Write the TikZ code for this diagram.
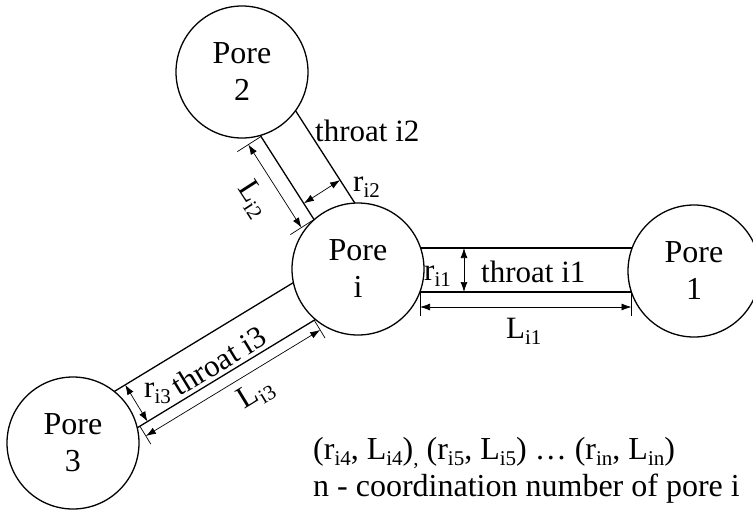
\documentclass[tikz,border=0pt]{standalone}
\usepackage{fontspec}
\setmainfont{Liberation Serif}
\usetikzlibrary{arrows.meta}
% lowered, smaller index text
\newcommand\lowsub[1]{\raisebox{-6pt}{\fontsize{21}{21}\selectfont #1}}
\begin{document}
\begin{tikzpicture}[x=1pt,y=-1pt,
  pore/.style={circle,draw,line width=1.3pt,fill=white,minimum size=132pt,
    inner sep=0pt,align=center,font=\fontsize{32}{37}\selectfont},
  wall/.style={line width=1.3pt},
  tick/.style={line width=0.7pt},
  dimarrow/.style={line width=0.7pt,{Latex[length=10pt,width=7pt]}-{Latex[length=10pt,width=7pt]}},
  lbl/.style={inner sep=0pt,font=\fontsize{31}{37}\selectfont},
  note/.style={inner sep=0pt,font=\fontsize{32}{37}\selectfont}]

\useasboundingbox (0,0) rectangle (753,512);

% throat walls (their ends are hidden under the filled pores)
\coordinate (w1a) at (400,248);   \coordinate (w1b) at (660,248);
\coordinate (w1c) at (400,292);   \coordinate (w1d) at (660,292);
\coordinate (w2a) at (253.9,125.4); \coordinate (w2b) at (321.1,230.6);
\coordinate (w2c) at (290.1,102.2); \coordinate (w2d) at (363,215.8);
\coordinate (w3a) at (103.9,397.8); \coordinate (w3b) at (304.7,275.7);
\coordinate (w3c) at (126.2,434.5); \coordinate (w3d) at (328.7,311.4);
\draw[wall] (w1a) -- (w1b);
\draw[wall] (w1c) -- (w1d);
\draw[wall] (w2a) -- (w2b);
\draw[wall] (w2c) -- (w2d);
\draw[wall] (w3a) -- (w3b);
\draw[wall] (w3c) -- (w3d);

% pores
\node[pore] (pi) at (358,269) {Pore\\i};
\node[pore] (p1) at (694,271) {Pore\\1};
\node[pore] (p2) at (242,72)  {Pore\\2};
\node[pore] (p3) at (73,443)  {Pore\\3};

% throat i1: radius and length
\coordinate (r1a) at (464,248); \coordinate (r1b) at (464,292);
\draw[dimarrow] (r1a) -- (r1b);
\coordinate (k1a) at (420,292);  \coordinate (k1b) at (420,316);
\coordinate (k1c) at (631.5,292); \coordinate (k1d) at (631.5,316);
\draw[tick] (k1a) -- (k1b);
\draw[tick] (k1c) -- (k1d);
\coordinate (l1a) at (420,307); \coordinate (l1b) at (631.5,307);
\draw[dimarrow] (l1a) -- (l1b);
\node[lbl,anchor=base west] (tr1) at (424,280) {r\lowsub{i1}};
\node[lbl,anchor=base west] (th1) at (481,282) {throat i1};
\node[lbl,anchor=base west] (tl1) at (506,338) {L\lowsub{i1}};

% throat i2: radius and length
\coordinate (r2a) at (303.9,203.3); \coordinate (r2b) at (340.1,180.1);
\draw[dimarrow] (r2a) -- (r2b);
\coordinate (k2a) at (261,136.5); \coordinate (k2b) at (237.4,151.6);
\coordinate (k2c) at (314,219.5); \coordinate (k2d) at (290.4,234.6);
\draw[tick] (k2a) -- (k2b);
\draw[tick] (k2c) -- (k2d);
\coordinate (l2a) at (248.4,144.6); \coordinate (l2b) at (301.4,227.6);
\draw[dimarrow] (l2a) -- (l2b);
\node[lbl,anchor=base west] (tr2) at (353,191) {r\lowsub{i2}};
\node[lbl,anchor=base west] (th2) at (315,141) {throat i2};
\node[lbl,rotate=-57.3] (tl2) at (253,199) {L\lowsub{i2}};

% throat i3: radius and length
\coordinate (r3a) at (125.2,384.8); \coordinate (r3b) at (147.5,421.5);
\draw[dimarrow] (r3a) -- (r3b);
\coordinate (k3a) at (139.9,426.2); \coordinate (k3b) at (150.8,444.1);
\coordinate (k3c) at (314.2,320.2); \coordinate (k3d) at (325.1,338.1);
\draw[tick] (k3a) -- (k3b);
\draw[tick] (k3c) -- (k3d);
\coordinate (l3a) at (145.9,436.0); \coordinate (l3b) at (320.2,330.0);
\draw[dimarrow] (l3a) -- (l3b);
\node[lbl,anchor=base west] (tr3) at (144,397) {r\lowsub{i3}};
\node[lbl,anchor=base,rotate=31.3] (th3) at (224.2,369.9) {throat i3};
\node[lbl,rotate=31.3] (tl3) at (256,394) {L\lowsub{i3}};

% remaining throats and legend
\node[note,anchor=base west] (rest) at (313,459)
  {(r\lowsub{i4}, L\lowsub{i4})\lowsub{,} (r\lowsub{i5}, L\lowsub{i5}) … (r\lowsub{in}, L\lowsub{in})};
\node[note,anchor=base west] (legend) at (313,496) {n - coordination number of pore i};
\end{tikzpicture}
\end{document}
